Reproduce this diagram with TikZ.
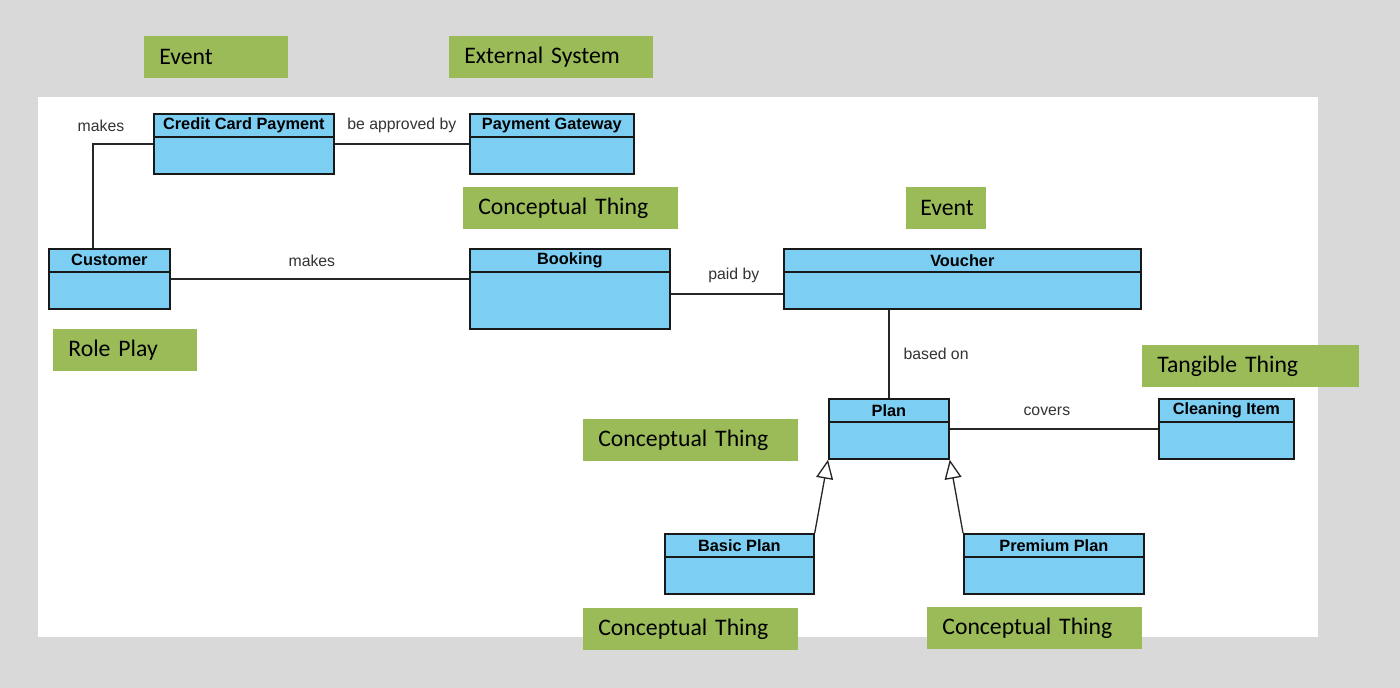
\documentclass[tikz,border=0pt]{standalone}
\usepackage{fontspec}
\setmainfont{Carlito}
\newfontfamily\umlfont{Liberation Sans}
\usepackage{xcolor}
\usepackage{tikz}
\usetikzlibrary{positioning}
\usetikzlibrary{arrows.meta}
\definecolor{bggray}{HTML}{D9D9D9}
\definecolor{taggreen}{HTML}{9BBB59}
\definecolor{clsblue}{HTML}{7DCEF3}
\definecolor{lblgray}{HTML}{333333}

\begin{document}
\begin{tikzpicture}
 [x=0.02cm, y=-0.02cm,
  tag/.style={rectangle, fill=taggreen, anchor=north west, minimum height=0.84cm,
              inner xsep=0.3cm, align=left, font=\fontsize{13.5}{15}\selectfont},
  cls/.style={rectangle, draw=black!90, line width=1pt, fill=clsblue,
              anchor=north west, minimum height=1.2cm},
  clstitle/.style={anchor=north, minimum height=0.44cm, inner sep=0pt,
              font=\umlfont\bfseries\fontsize{9.3}{10}\selectfont},
  assoc/.style={draw=black!85, line width=0.75pt},
  isa/.style={assoc, -{Triangle[fill=white, length=0.38cm, width=0.34cm]}},
  lbl/.style={font=\umlfont\fontsize{9}{10}\selectfont, text=lblgray, inner sep=0pt}]

 % canvas
 \fill[bggray] (0,0) rectangle (1400,688);
 \fill[white] (38,97) rectangle (1318,637);
 \useasboundingbox (0,0) rectangle (1400,688);

 % classes
 \node[cls, minimum width=3.6cm]  (ccpay)   at (153,113) {};
 \node[cls, minimum width=3.28cm] (gateway) at (469,113) {};
 \node[cls, minimum width=2.42cm] (cust)    at (48,248)  {};
 \node[cls, minimum width=4cm, minimum height=1.6cm] (booking) at (469,248) {};
 \node[cls, minimum width=7.14cm] (voucher) at (783,248) {};
 \node[cls, minimum width=2.4cm]  (plan)    at (828,398) {};
 \node[cls, minimum width=2.7cm]  (clean)   at (1158,398) {};
 \node[cls, minimum width=2.98cm] (basic)   at (664,533) {};
 \node[cls, minimum width=3.6cm]  (premium) at (963,533) {};

 \foreach \c/\t in {ccpay/Credit Card Payment, gateway/Payment Gateway,
                    cust/Customer, booking/Booking, voucher/Voucher, plan/Plan,
                    clean/Cleaning Item, basic/Basic Plan, premium/Premium Plan}
 {
   \node[clstitle] (\c-t) at ([yshift=-0.02cm]\c.north) {\t};
   \draw[line width=1pt, black!90] (\c-t.south -| \c.west) -- (\c-t.south -| \c.east);
 }

 % stereotype tags
 \node[tag, text width=2.28cm] (ev1)   at (144,36)  {Event};
 \node[tag, text width=3.48cm] (ext)   at (449,36)  {External System};
 \node[tag, text width=3.7cm]  (ct1)   at (463,187) {Conceptual Thing};
 \node[tag, text width=1.04cm, inner xsep=0.28cm] (ev2) at (906,187) {Event};
 \node[tag, text width=2.28cm] (role)  at (53,329)  {Role Play};
 \node[tag, text width=3.74cm] (tang)  at (1142,345) {Tangible Thing};
 \node[tag, text width=3.7cm]  (ct2)   at (583,419) {Conceptual Thing};
 \node[tag, text width=3.7cm]  (ct3)   at (583,608) {Conceptual Thing};
 \node[tag, text width=3.7cm]  (ct4)   at (927,607) {Conceptual Thing};

 % associations
 \coordinate (custup) at ([xshift=0.9cm]cust.north west);
 \coordinate (bookout) at ([yshift=-0.1cm]booking.east);
 \draw[assoc] (custup) |- (ccpay.west)
   node[lbl, pos=0.5, xshift=0.16cm, yshift=0.36cm] {makes};
 \draw[assoc] (ccpay.east) -- (gateway.west)
   node[lbl, midway, yshift=0.36cm] {be approved by};
 \draw[assoc] (cust.east) -- (cust.east -| booking.west)
   node[lbl, midway, xshift=-0.16cm, yshift=0.36cm] {makes};
 \draw[assoc] (bookout) -- (bookout -| voucher.west)
   node[lbl, midway, xshift=0.14cm, yshift=0.36cm] {paid by};
 \draw[assoc] (plan.north |- voucher.south) -- (plan.north)
   node[lbl, midway, right=0.28cm] {based on};
 \draw[assoc] (plan.east) -- (clean.west)
   node[lbl, midway, xshift=-0.14cm, yshift=0.36cm] {covers};

 % generalisation
 \draw[isa] (basic.north east) -- (plan.south west);
 \draw[isa] (premium.north west) -- (plan.south east);
\end{tikzpicture}
\end{document}
